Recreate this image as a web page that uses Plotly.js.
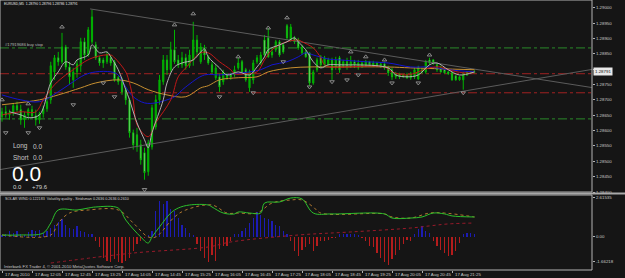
<!DOCTYPE html>
<html><head><meta charset="utf-8">
<script src="https://cdn.plot.ly/plotly-3.0.1.min.js"></script>
<style>html,body{margin:0;padding:0;background:#151515;overflow:hidden}#chart{width:625px;height:278px}</style>
</head><body><div id="chart"></div>
<script>
// ---------- price data (EURUSD M5, 17 Aug 2010) ----------
const openP=[1.28645,1.28661,1.28651,1.28658,1.28681,1.28668,1.28635,1.28651,1.28668,1.28648,
1.28635,1.28655,1.28671,1.28700,1.28791,1.28837,1.28824,1.28872,1.28807,1.28765,
1.28791,1.28811,1.28889,1.28846,1.28889,1.28879,1.28837,1.28830,1.28824,1.28837,
1.28824,1.28772,1.28765,1.28733,1.28700,1.28593,1.28586,1.28554,1.28528,1.28466,
1.28547,1.28612,1.28700,1.28759,1.28830,1.28798,1.28863,1.28830,1.28814,1.28837,
1.28811,1.28830,1.28895,1.28824,1.28863,1.28840,1.28814,1.28772,1.28775,1.28759,
1.28772,1.28781,1.28781,1.28804,1.28824,1.28798,1.28739,1.28765,1.28824,1.28820,
1.28895,1.28902,1.28856,1.28863,1.28889,1.28879,1.28941,1.28895,1.28902,1.28895,
1.28853,1.28856,1.28853,1.28755,1.28798,1.28840,1.28814,1.28814,1.28830,1.28807,
1.28837,1.28811,1.28824,1.28811,1.28824,1.28811,1.28820,1.28811,1.28824,1.28814,
1.28820,1.28811,1.28817,1.28804,1.28798,1.28775,1.28785,1.28775,1.28781,1.28772,
1.28775,1.28768,1.28798,1.28791,1.28830,1.28830,1.28814,1.28804,1.28798,1.28791,
1.28788,1.28778,1.28765,1.28765,1.28781,1.28788,1.28790];
const highP=[1.28674,1.28681,1.28668,1.28690,1.28694,1.28684,1.28661,1.28674,1.28681,1.28668,
1.28661,1.28681,1.28707,1.28824,1.28846,1.28856,1.28918,1.28879,1.28824,1.28804,
1.28830,1.28902,1.28902,1.28937,1.28993,1.28889,1.28843,1.28837,1.28856,1.28846,
1.28830,1.28778,1.28772,1.28739,1.28707,1.28603,1.28609,1.28570,1.28544,1.28570,
1.28684,1.28716,1.28781,1.28846,1.28846,1.28889,1.28928,1.28846,1.28856,1.28850,
1.28863,1.28954,1.28911,1.28885,1.28879,1.28846,1.28824,1.28814,1.28785,1.28798,
1.28788,1.28788,1.28811,1.28837,1.28830,1.28804,1.28798,1.28830,1.28846,1.28856,
1.28911,1.28934,1.28869,1.28895,1.28895,1.28885,1.28947,1.28947,1.28908,1.28902,
1.28879,1.28863,1.28856,1.28798,1.28837,1.28846,1.28843,1.28837,1.28837,1.28840,
1.28843,1.28830,1.28837,1.28843,1.28830,1.28830,1.28824,1.28830,1.28827,1.28827,
1.28824,1.28820,1.28824,1.28811,1.28804,1.28791,1.28788,1.28785,1.28788,1.28791,
1.28804,1.28811,1.28804,1.28830,1.28837,1.28833,1.28820,1.28811,1.28804,1.28794,
1.28791,1.28781,1.28778,1.28791,1.28794,1.28794,1.28796];
const lowP=[1.28629,1.28642,1.28635,1.28648,1.28661,1.28619,1.28609,1.28635,1.28642,1.28616,
1.28622,1.28642,1.28661,1.28687,1.28765,1.28811,1.28817,1.28798,1.28749,1.28739,
1.28772,1.28791,1.28830,1.28840,1.28882,1.28830,1.28811,1.28804,1.28817,1.28811,
1.28759,1.28749,1.28716,1.28684,1.28577,1.28538,1.28531,1.28489,1.28440,1.28453,
1.28538,1.28603,1.28684,1.28749,1.28781,1.28791,1.28817,1.28804,1.28804,1.28798,
1.28804,1.28811,1.28843,1.28817,1.28830,1.28814,1.28785,1.28765,1.28726,1.28749,
1.28765,1.28765,1.28775,1.28798,1.28785,1.28759,1.28726,1.28752,1.28817,1.28814,
1.28840,1.28837,1.28837,1.28856,1.28840,1.28850,1.28895,1.28889,1.28882,1.28863,
1.28846,1.28837,1.28746,1.28749,1.28791,1.28804,1.28807,1.28811,1.28765,1.28798,
1.28788,1.28804,1.28798,1.28804,1.28804,1.28798,1.28804,1.28807,1.28811,1.28807,
1.28807,1.28804,1.28798,1.28778,1.28765,1.28768,1.28768,1.28772,1.28768,1.28765,
1.28768,1.28765,1.28785,1.28785,1.28814,1.28814,1.28791,1.28788,1.28785,1.28781,
1.28762,1.28762,1.28762,1.28733,1.28778,1.28785,1.28786];
const closeP=[1.28661,1.28651,1.28658,1.28681,1.28668,1.28635,1.28651,1.28668,1.28648,1.28635,
1.28655,1.28671,1.28694,1.28811,1.28837,1.28824,1.28872,1.28807,1.28775,1.28791,
1.28817,1.28889,1.28846,1.28928,1.28970,1.28837,1.28820,1.28820,1.28846,1.28820,
1.28765,1.28759,1.28726,1.28700,1.28593,1.28554,1.28547,1.28505,1.28463,1.28560,
1.28674,1.28700,1.28765,1.28830,1.28798,1.28863,1.28824,1.28814,1.28837,1.28811,
1.28846,1.28895,1.28856,1.28872,1.28846,1.28820,1.28791,1.28804,1.28742,1.28791,
1.28781,1.28775,1.28798,1.28820,1.28791,1.28765,1.28791,1.28820,1.28837,1.28846,
1.28846,1.28840,1.28846,1.28889,1.28846,1.28856,1.28902,1.28937,1.28889,1.28869,
1.28872,1.28840,1.28755,1.28791,1.28830,1.28814,1.28837,1.28830,1.28798,1.28830,
1.28798,1.28824,1.28811,1.28824,1.28814,1.28820,1.28811,1.28824,1.28814,1.28820,
1.28811,1.28817,1.28804,1.28788,1.28775,1.28785,1.28775,1.28781,1.28772,1.28785,
1.28798,1.28804,1.28791,1.28824,1.28820,1.28820,1.28798,1.28791,1.28788,1.28785,
1.28765,1.28765,1.28775,1.28781,1.28791,1.28791,1.28791];

// moving averages (read at selected bars)
const maRedIdx=[0,5,9,11,14,17,19,22,25,29,30,33,34,35,36,39,41,45,47,49,53,55,58,61,62,65,68,70,72,75,79,80,83,85,86,88,102,104,108,114,117,119,123,126];
const maRedVal=[1.28651,1.28661,1.28661,1.28700,1.28749,1.28781,1.28798,1.28824,1.28840,1.28846,1.28837,1.28791,1.28755,1.28700,1.28619,1.28580,1.28625,1.28700,1.28775,1.28804,1.28853,1.28853,1.28824,1.28798,1.28785,1.28785,1.28791,1.28830,1.28863,1.28885,1.28895,1.28889,1.28869,1.28837,1.28814,1.28807,1.28807,1.28791,1.28781,1.28804,1.28807,1.28798,1.28788,1.28788];
const maBlueIdx=[0,5,10,15,19,22,25,29,31,33,35,38,41,44,46,49,54,58,62,66,69,72,76,79,81,83,87,90,97,103,109,114,119,126];
const maBlueVal=[1.28716,1.28700,1.28694,1.28726,1.28759,1.28781,1.28791,1.28791,1.28781,1.28742,1.28710,1.28690,1.28690,1.28700,1.28710,1.28742,1.28781,1.28781,1.28785,1.28791,1.28798,1.28814,1.28824,1.28840,1.28853,1.28846,1.28833,1.28830,1.28824,1.28820,1.28807,1.28807,1.28798,1.28791];
const maGoldIdx=[0,10,15,21,25,31,35,39,44,49,53,55,58,63,68,71,77,82,88,103,109,126];
const maGoldVal=[1.28684,1.28700,1.28716,1.28739,1.28755,1.28765,1.28755,1.28733,1.28716,1.28710,1.28739,1.28746,1.28765,1.28772,1.28775,1.28791,1.28804,1.28807,1.28807,1.28807,1.28804,1.28798];
const maFastIdx=[2,5,7,10,13,15,17,19,20,23,24,26,28,29,31,33,34,36,38,39,40,43,44,46,48,51,53,54,55,58,60,63,66,68,70,71,74,76,78,79,81,83,85,87,90,103,105,108,111,114,116,119,122,126];
const maFastVal=[1.28661,1.28651,1.28642,1.28651,1.28755,1.28791,1.28824,1.28814,1.28830,1.28846,1.28879,1.28853,1.28856,1.28840,1.28798,1.28733,1.28700,1.28625,1.28570,1.28544,1.28593,1.28700,1.28755,1.28807,1.28820,1.28830,1.28856,1.28866,1.28840,1.28804,1.28781,1.28791,1.28781,1.28807,1.28840,1.28863,1.28879,1.28889,1.28902,1.28889,1.28863,1.28824,1.28804,1.28814,1.28814,1.28804,1.28781,1.28775,1.28781,1.28814,1.28820,1.28798,1.28781,1.28791];

// fractals
const fracUpIdx=[0,7,16,46,51,63,71,76,93,97,102,114];
const fracUpVal=[1.28700,1.28687,1.28937,1.28944,1.28980,1.28840,1.28934,1.28967,1.28856,1.28840,1.28830,1.28846];
const fracDnIdx=[1,7,10,19,27,30,38,58,67,75,82,88,92,95,104,111,123];
const fracDnVal=[1.28593,1.28593,1.28609,1.28684,1.28755,1.28710,1.28408,1.28710,1.28723,1.28824,1.28742,1.28759,1.28765,1.28781,1.28755,1.28755,1.28723];

// trend lines
const trendDnIdx=[23.5,157.3], trendDnVal=[1.28996,1.28740];
const trendUpIdx=[-0.5,157.3], trendUpVal=[1.28473,1.28799];
// horizontal order levels
const greenLevels=[1.28869,1.28638];
const redLevels=[1.28785,1.28723];

// price scale
const priceTicks=[1.29000,1.28950,1.28900,1.28850,1.28800,1.28750,1.28700,1.28650,1.28600,1.28550,1.28500,1.28450,1.28400];
const lastPrice=1.28791;

// time labels
const timeIdx=[0,8,16,24,32,40,48,56,64,72,80,88,96,104,112,120];
const timeText=["17 Aug 2010","17 Aug 12:05","17 Aug 12:45","17 Aug 13:25","17 Aug 14:05","17 Aug 14:45","17 Aug 15:25","17 Aug 16:05","17 Aug 16:45","17 Aug 17:25","17 Aug 18:05","17 Aug 18:45","17 Aug 19:25","17 Aug 20:05","17 Aug 20:45","17 Aug 21:25"];

// sub window: Solar Wind histogram
const solarWind=[0.1,0.2,0.35,0.25,0.35,0.15,0.1,0.3,0.45,0.4,
0.45,0.25,0.4,0.6,0.8,1.0,1.15,0.8,0.6,0.5,
0.7,0.4,0.3,0.2,0.15,-0.3,-0.7,-1.4,-1.6,-1.7,
-1.5,-1.7,-1.75,-1.6,-1.4,-0.95,-0.5,-0.3,-0.1,0.1,
0.4,1.7,2.35,2.15,2.35,1.8,1.7,1.25,0.8,0.6,
0.25,0.1,-0.5,-0.95,-1.4,-1.7,-1.2,-1.6,-0.8,-0.6,
-0.6,-0.3,0.15,0.15,0.4,0.6,0.9,1.25,1.6,1.4,
1.25,1.15,1.05,0.8,0.7,0.4,0.15,-0.3,-0.95,-1.3,
-0.85,-0.7,-0.5,-0.95,-0.6,-0.3,-0.3,-0.2,-0.1,-0.1,
0.15,0.2,0.2,0.2,0.15,0.1,-0.1,-0.3,-0.6,-0.7,
-1.1,-1.4,-1.7,-1.9,-1.5,-1.2,-0.85,-0.5,-0.2,-0.3,
0.15,0.5,0.7,0.4,0.25,-0.3,-0.6,-0.85,-1.05,-1.3,
-1.2,-0.95,-0.4,0.15,0.25,0.25,0.15];
// Volatility quality (green) and its signal (orange dotted)
const vqIdx=[0,5,11,13,15,20,23,25,31,33,37,39,40,42,45,47,50,55,56,59,62,63,66,69,70,74,77,80,83,88,102,104,109,112,115,118,120,126];
const vqVal=[0.11,0.11,0.24,0.90,1.76,1.76,1.89,1.96,1.89,1.10,-0.02,-0.42,-0.02,0.64,1.56,1.89,2.09,2.09,1.96,1.56,1.50,1.63,1.56,1.56,2.22,2.29,2.55,2.49,1.56,1.50,1.50,1.23,1.23,1.30,1.56,1.50,1.37,1.30];
const vqSigIdx=[0,13,15,18,23,31,35,39,41,46,49,56,60,63,68,72,77,80,83,85,102,104,109,114,118,126];
const vqSigVal=[0.11,0.11,0.90,1.56,1.76,1.76,0.90,-0.02,-0.02,1.30,1.76,2.09,1.56,1.56,1.56,2.22,2.42,2.42,1.96,1.56,1.50,1.30,1.23,1.56,1.56,1.30];
const trendSigIdx=[13,35,55,61,79,93,109,114,119,126];
const trendSigVal=[-1.74,-1.08,-0.68,-0.35,0.11,0.31,0.57,0.71,0.84,0.90];

// ---------- geometry helpers (layout only) ----------
const W=592, H=270; // plot area px
const px=x=>x/W, py=y=>(H-y)/H;
const FONT='Liberation Sans, Arial, sans-serif';

const traces=[];
// trend lines
traces.push({type:'scatter',mode:'lines',x:trendDnIdx,y:trendDnVal,line:{color:'#5c5c5c',width:1},hoverinfo:'skip'});
traces.push({type:'scatter',mode:'lines',x:trendUpIdx,y:trendUpVal,line:{color:'#5c5c5c',width:1},hoverinfo:'skip'});
// candles
traces.push({type:'candlestick',open:openP,high:highP,low:lowP,close:closeP,
  increasing:{line:{color:'#00b400',width:1},fillcolor:'#00a800'},
  decreasing:{line:{color:'#00b400',width:1},fillcolor:'#ffffff'},
  whiskerwidth:0,hoverinfo:'skip'});
// MAs
traces.push({type:'scatter',mode:'lines',x:maGoldIdx,y:maGoldVal,line:{color:'#c89030',width:1,shape:'spline'}});
traces.push({type:'scatter',mode:'lines',x:maBlueIdx,y:maBlueVal,line:{color:'#1414d0',width:1,shape:'spline'}});
traces.push({type:'scatter',mode:'lines',x:maRedIdx,y:maRedVal,line:{color:'#c01818',width:1,shape:'spline'}});
traces.push({type:'scatter',mode:'lines',x:maFastIdx,y:maFastVal,line:{color:'#b0b0b0',width:1,shape:'spline'}});
// fractals
traces.push({type:'scatter',mode:'markers',x:fracUpIdx,y:fracUpVal,marker:{symbol:'triangle-up-open',size:4,color:'#8a8a8a',line:{width:1,color:'#8a8a8a'}},cliponaxis:true});
traces.push({type:'scatter',mode:'markers',x:fracDnIdx,y:fracDnVal,marker:{symbol:'triangle-down-open',size:4,color:'#8a8a8a',line:{width:1,color:'#8a8a8a'}},cliponaxis:true});
// sub window
traces.push({type:'bar',x:solarWind.map((v,i)=>i),y:solarWind,yaxis:'y2',width:0.3,
  marker:{color:solarWind.map(v=>v>=0?'#1c1cb4':'#b41c1c'),line:{width:0}}});
traces.push({type:'scatter',mode:'lines',x:trendSigIdx,y:trendSigVal,yaxis:'y2',line:{color:'#9a1a2a',width:1,dash:'dot',shape:'spline'}});
traces.push({type:'scatter',mode:'lines',x:vqSigIdx,y:vqSigVal,yaxis:'y2',line:{color:'#b07830',width:1,dash:'dot',shape:'spline'}});
traces.push({type:'scatter',mode:'lines',x:vqIdx,y:vqVal,yaxis:'y2',line:{color:'#2cc02c',width:1,shape:'spline'}});

const shapes=[];
greenLevels.forEach(v=>shapes.push({type:'line',xref:'paper',yref:'y',x0:0,x1:1,y0:v,y1:v,line:{color:'#2a8a2a',width:1,dash:'dashdot'},layer:'below'}));
redLevels.forEach(v=>shapes.push({type:'line',xref:'paper',yref:'y',x0:0,x1:1,y0:v,y1:v,line:{color:'#a02222',width:1,dash:'dashdot'},layer:'below'}));
// panel frames
shapes.push({type:'rect',xref:'paper',yref:'paper',x0:0,x1:1,y0:py(192),y1:1,line:{color:'#b4b4b4',width:1},layer:'above'});
shapes.push({type:'rect',xref:'paper',yref:'paper',x0:0,x1:1,y0:0,y1:py(195),line:{color:'#b4b4b4',width:1},layer:'above'});
shapes.push({type:'rect',xref:'paper',yref:'paper',x0:0,x1:px(625),y0:py(194.5),y1:py(192.5),fillcolor:'#a8a8a8',line:{width:0},layer:'above'});

const ann=[];
const A=(text,x,y,size,color,opts)=>ann.push(Object.assign({text:text,xref:'paper',yref:'paper',x:px(x),y:py(y),xanchor:'left',yanchor:'middle',showarrow:false,font:{family:FONT,size:size,color:color}},opts||{}));
A('EURUSD,M5  1.28790 1.28796 1.28786 1.28791',2,4,3.4,'#e6e6e6');
A('#17919686 buy stop',3,45,4.2,'#b8b8b8');
A('Long',11,146,6.5,'#c8c8c8');A('0.0',31,146,6.5,'#c8c8c8');
A('Short',11,157,6.5,'#c8c8c8');A('0.0',31,157,6.5,'#c8c8c8');
A('0.0',10,173,21,'#ffffff');
A('0.0',11,187,6,'#d0d0d0');A('+79.6',30,187,6,'#d0d0d0');
A('SOLAR WIND 0.122183  Volatility quality - Stridsman 0.2636 0.2636 0.2610',3,199,3.7,'#d0d0d0');
A('Interbank FX Trader 4, © 2001-2010 MetaQuotes Software Corp.',2,266,4.2,'#c8c8c8');
timeIdx.forEach((t,k)=>ann.push({text:timeText[k],xref:'x',yref:'paper',x:t,y:py(274),xanchor:'left',yanchor:'middle',xshift:1,showarrow:false,font:{family:FONT,size:4.4,color:'#c8c8c8'}}));
ann.push({text:lastPrice.toFixed(5),xref:'paper',yref:'y',x:px(593),y:lastPrice,xanchor:'left',yanchor:'middle',showarrow:false,bgcolor:'#e8e8e8',borderpad:1,font:{family:FONT,size:4.4,color:'#101010'}});

const layout={width:625,height:278,margin:{l:0,r:33,t:0,b:8,pad:0},
  paper_bgcolor:'#151515',plot_bgcolor:'#151515',showlegend:false,boxgap:0.55,bargap:0,
  font:{family:FONT,color:'#c8c8c8',size:4},
  xaxis:{range:[-0.533,157.33],showgrid:false,zeroline:false,rangeslider:{visible:false},anchor:'y2',
    tickmode:'array',tickvals:timeIdx,ticks:'outside',ticklen:2,tickcolor:'#b4b4b4',showticklabels:false,showline:false},
  yaxis:{domain:[py(192),1],range:[1.28400,1.29025],side:'right',tickmode:'array',tickvals:priceTicks,
    ticktext:priceTicks.map(v=>Math.abs(v-lastPrice)<0.0002?'':v.toFixed(5)),ticks:'outside',ticklen:2,tickcolor:'#b4b4b4',
    tickfont:{family:FONT,size:4.4,color:'#c8c8c8'},showgrid:false,zeroline:false},
  yaxis2:{domain:[0,py(195)],range:[-2.2,2.75],side:'right',tickmode:'array',tickvals:[2.61535,0,-1.66218],
    ticktext:['2.61535','0.00','-1.66218'],ticks:'outside',ticklen:2,tickcolor:'#b4b4b4',
    tickfont:{family:FONT,size:4.4,color:'#c8c8c8'},showgrid:false,zeroline:false},
  shapes:shapes,annotations:ann};
Plotly.newPlot('chart',traces,layout,{staticPlot:true,displayModeBar:false});
</script></body></html>
